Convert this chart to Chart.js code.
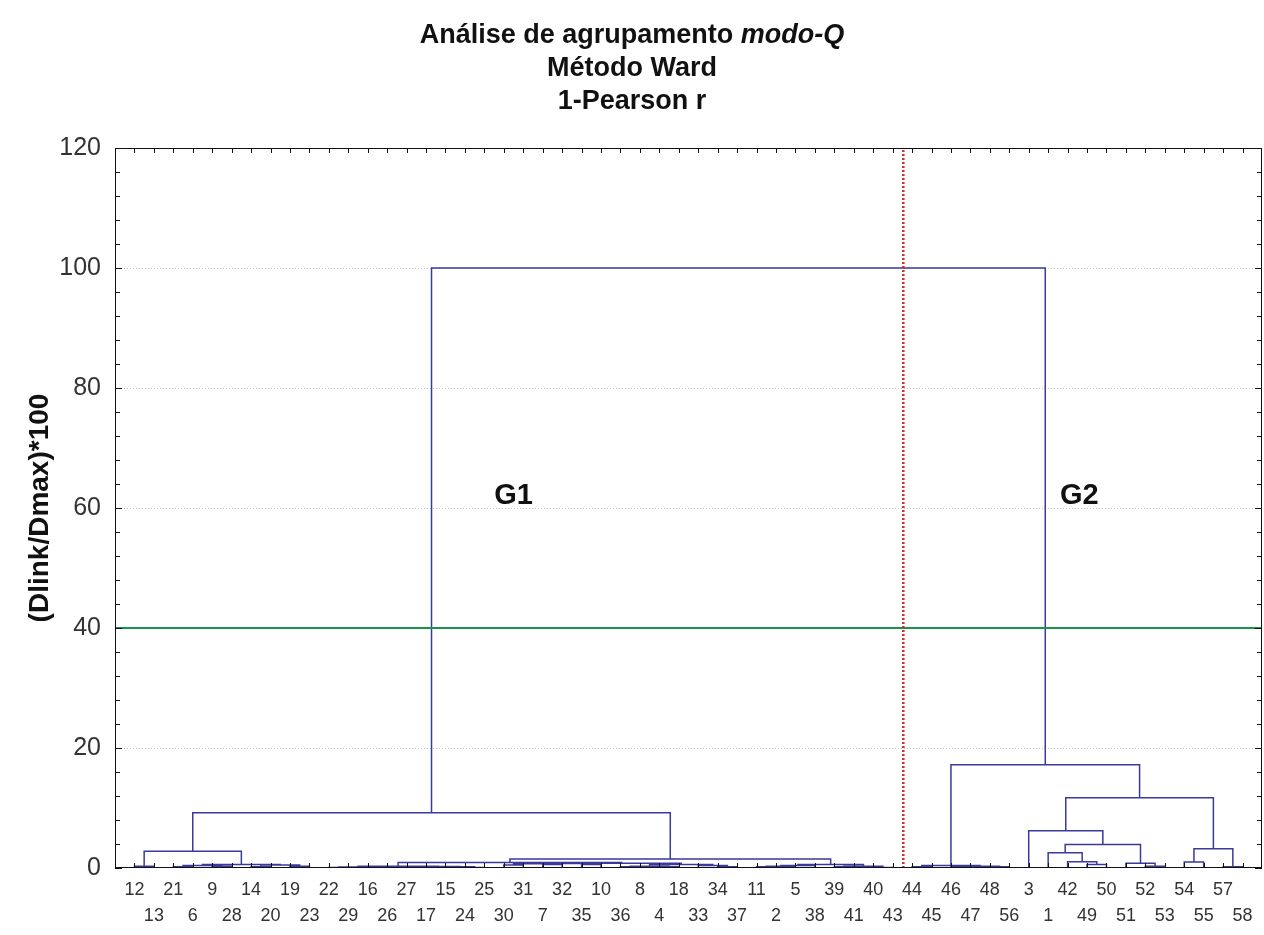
<!DOCTYPE html>
<html>
<head>
<meta charset="utf-8">
<title>Análise de agrupamento modo-Q</title>
<script src="https://cdn.jsdelivr.net/npm/chart.js@4.4.1/dist/chart.umd.min.js"></script>
<style>
  body { margin: 0; background: #fff; }
  .wrap { position: relative; width: 1264px; height: 935px; }
  canvas { position: absolute; left: 0; top: 0; }
  .title {
    position: absolute; left: 0; top: 18px; width: 1264px; text-align: center;
    font-family: "Liberation Sans", Arial, sans-serif; font-weight: bold;
    font-size: 27px; line-height: 33px; color: #111;
  }
</style>
</head>
<body>
<div class="wrap">
  <canvas id="dendro" width="1264" height="935"></canvas>
  <div class="title">
    <div>Análise de agrupamento <i>modo-Q</i></div>
    <div>Método Ward</div>
    <div>1-Pearson r</div>
  </div>
</div>
<script>
// DATA

// leaf order along the x axis (left to right)
const leafLabels = [12, 13, 21, 6, 9, 28, 14, 20, 19, 23, 22, 29, 16, 26, 27, 17, 15, 24, 25, 30,
  31, 7, 32, 35, 10, 36, 8, 4, 18, 33, 34, 37, 11, 2, 5, 38, 39, 41, 40, 43,
  44, 45, 46, 47, 48, 56, 3, 1, 42, 49, 50, 51, 52, 53, 54, 55, 57, 58];

// merges: left child, right child (leaf number or "mN" = merge N), linkage height
const mergeLeft = [12, 21, 9, "m1", 14, 19, "m4", "m3", "m0",
  22, 16, "m9", 27, 24, 15, "m12", "m11",
  30, 7, "m17", 35, "m19", 36, 4, "m22", 34, 33, "m24", "m21", "m16",
  11, "m30", "m31", 39, 40, "m33", "m32", "m29", "m8",
  44, 46, 48, "m40", "m39", 49, 42, 1, 52, 51, "m46", 3, 54, 57, "m51", "m50", "m43", "m38"];
const mergeRight = [13, 6, 28, "m2", 20, 23, "m5", "m6", "m7",
  29, 26, "m10", 17, 25, "m13", "m14", "m15",
  31, 32, "m18", 10, "m20", 8, 18, "m23", 37, "m25", "m26", "m27", "m28",
  2, 5, 38, 41, 43, "m34", "m35", "m36", "m37",
  45, 47, 56, "m41", "m42", 50, "m44", "m45", 53, "m47", "m48", "m49", 55, 58, "m52", "m53", "m54", "m55"];
const mergeHeight = [0.3, 0.2, 0.3, 0.4, 0.2, 0.3, 0.5, 0.6, 2.8,
  0.1, 0.1, 0.15, 0.1, 0.1, 0.2, 0.25, 0.3,
  0.5, 0.6, 0.7, 0.6, 0.75, 0.2, 0.2, 0.3, 0.2, 0.4, 0.6, 0.8, 0.9,
  0.2, 0.3, 0.4, 0.2, 0.1, 0.3, 0.6, 1.5, 9.2,
  0.2, 0.2, 0.2, 0.3, 0.4, 0.6, 1.05, 2.55, 0.3, 0.8, 3.9, 6.2, 1.0, 0.2, 3.2, 11.7, 17.2, 100];

const yTicks = [0, 20, 40, 60, 80, 100, 120];
const cutHeight = 40;      // green cut line
const groupSplit = 40.55;  // red dotted line between 43 and 44
const groupNames = ["G1", "G2"];
const groupX = [20.5, 49.6];
const groupY = [62, 62];

const FONT = "'Liberation Sans', Arial, sans-serif";

// BUILD DENDROGRAM SEGMENTS

function buildSegments() {
  const pos = {};
  const hgt = {};
  leafLabels.forEach((lab, i) => {
    pos[lab] = i + 1;
    hgt[lab] = 0;
  });

  const points = [];
  mergeHeight.forEach((h, i) => {
    const a = mergeLeft[i];
    const b = mergeRight[i];
    points.push(
      { x: pos[a], y: hgt[a] },
      { x: pos[a], y: h },
      { x: pos[b], y: h },
      { x: pos[b], y: hgt[b] },
      { x: pos[b], y: null }
    );
    pos["m" + i] = (pos[a] + pos[b]) / 2;
    hgt["m" + i] = h;
  });
  return points;
}

// FRAME, INWARD TICKS, GRID, GROUP LABELS

const framePlugin = {
  id: "frame",
  beforeDatasetsDraw(chart) {
    const { ctx, chartArea: a, scales: { y } } = chart;
    ctx.save();
    ctx.strokeStyle = "#c4c4c4";
    ctx.lineWidth = 1;
    ctx.setLineDash([1, 2]);
    yTicks.forEach(v => {
      if (v === 0 || v === 120) return;
      const py = Math.round(y.getPixelForValue(v)) + 0.5;
      ctx.beginPath();
      ctx.moveTo(a.left, py);
      ctx.lineTo(a.right, py);
      ctx.stroke();
    });
    ctx.restore();
  },
  afterDatasetsDraw(chart) {
    const { ctx, chartArea: a, scales: { x, y } } = chart;
    ctx.save();
    ctx.strokeStyle = "#111";
    ctx.lineWidth = 1;
    ctx.strokeRect(a.left + 0.5, a.top + 0.5, a.right - a.left - 1, a.bottom - a.top - 1);

    ctx.beginPath();
    for (let v = 0; v <= 120; v += 4) {
      const py = Math.round(y.getPixelForValue(v)) + 0.5;
      const len = v % 20 === 0 ? 7 : 5;
      ctx.moveTo(a.left, py);
      ctx.lineTo(a.left + len, py);
      ctx.moveTo(a.right, py);
      ctx.lineTo(a.right - len, py);
    }
    leafLabels.forEach((_, i) => {
      const px = Math.round(x.getPixelForValue(i + 1)) + 0.5;
      ctx.moveTo(px, a.bottom);
      ctx.lineTo(px, a.bottom - 5);
      ctx.moveTo(px, a.top);
      ctx.lineTo(px, a.top + 5);
    });
    ctx.stroke();

    ctx.fillStyle = "#111";
    ctx.font = "bold 29px " + FONT;
    ctx.textAlign = "center";
    ctx.textBaseline = "middle";
    groupNames.forEach((g, i) => {
      ctx.fillText(g, x.getPixelForValue(groupX[i]), y.getPixelForValue(groupY[i]));
    });
    ctx.restore();
  }
};

// CHART

const ctx = document.getElementById("dendro").getContext("2d");

new Chart(ctx, {
  type: "line",
  data: {
    datasets: [
      {
        data: [{ x: groupSplit, y: 0 }, { x: groupSplit, y: 120 }],
        borderColor: "#d02a2a",
        borderWidth: 2.5,
        borderDash: [2, 2],
        pointRadius: 0
      },
      {
        data: [{ x: 0, y: cutHeight }, { x: 59, y: cutHeight }],
        borderColor: "#17964a",
        borderWidth: 2,
        pointRadius: 0
      },
      {
        data: buildSegments(),
        borderColor: "#3a3a9c",
        borderWidth: 1.5,
        pointRadius: 0,
        tension: 0,
        spanGaps: false
      }
    ]
  },
  options: {
    responsive: false,
    animation: false,
    layout: { padding: { top: 148, right: 2, left: 0, bottom: 0 } },
    plugins: {
      legend: { display: false },
      tooltip: { enabled: false }
    },
    scales: {
      x: {
        type: "linear",
        min: 0,
        max: 59,
        afterFit: s => { s.height = 67; },
        afterBuildTicks: s => { s.ticks = leafLabels.map((_, i) => ({ value: i + 1 })); },
        grid: { display: false, drawTicks: false },
        border: { display: false },
        ticks: {
          autoSkip: false,
          maxRotation: 0,
          minRotation: 0,
          padding: 9,
          color: "#333",
          font: { size: 18, family: FONT, lineHeight: "26px" },
          callback: (v, i) => i % 2 === 0 ? String(leafLabels[i]) : ["", String(leafLabels[i])]
        }
      },
      y: {
        min: 0,
        max: 120,
        afterFit: s => { s.width = 115; },
        grid: { display: false, drawTicks: false },
        border: { display: false },
        ticks: {
          stepSize: 20,
          padding: 14,
          color: "#333",
          font: { size: 25, family: FONT }
        },
        title: {
          display: true,
          text: "(Dlink/Dmax)*100",
          color: "#111",
          font: { size: 28, weight: "bold", family: FONT },
          padding: { top: 23 }
        }
      }
    }
  },
  plugins: [framePlugin]
});
</script>
</body>
</html>
